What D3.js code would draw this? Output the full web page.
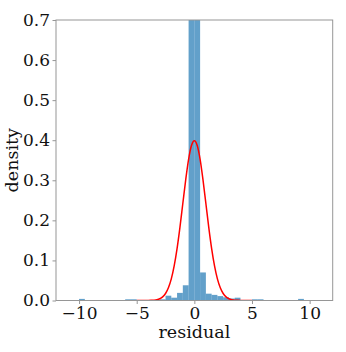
<!DOCTYPE html>
<html>
<head>
<meta charset="utf-8">
<script src="https://cdn.jsdelivr.net/npm/d3@7"></script>
<style>
  body { margin: 0; background: #fff; }
  text { font-family: "DejaVu Serif", serif; }
</style>
</head>
<body>
<svg id="canvas" width="346" height="352"></svg>
<script>
// histogram bins (left edge, width 0.5) and their densities
var binWidth = 0.5;
var binLefts = [-10, -6, -5.5, -3, -2.5, -2, -1.5, -1, -0.5, 0, 0.5, 1, 1.5, 2, 2.5, 3, 3.5, 5, 5.5, 9];
var densities = [0.004, 0.003, 0.003, 0.003, 0.012, 0.007, 0.019, 0.038, 0.93, 0.85, 0.07, 0.017, 0.014, 0.011, 0.008, 0.005, 0.007, 0.003, 0.003, 0.004];

// red reference curve
var curveX = [-5, -4.5, -4, -3.75, -3.5, -3.25, -3, -2.75, -2.5, -2.25, -2, -1.75, -1.5, -1.25, -1, -0.75, -0.5, -0.25, 0,
              0.25, 0.5, 0.75, 1, 1.25, 1.5, 1.75, 2, 2.25, 2.5, 2.75, 3, 3.25, 3.5, 3.75, 4, 4.5, 5];
var curveY = [0, 0, 0.0001, 0.0004, 0.0009, 0.002, 0.0044, 0.0091, 0.0175, 0.0317, 0.054, 0.0863, 0.1295, 0.1826, 0.242, 0.3011, 0.3521, 0.3867, 0.3989,
              0.3867, 0.3521, 0.3011, 0.242, 0.1826, 0.1295, 0.0863, 0.054, 0.0317, 0.0175, 0.0091, 0.0044, 0.002, 0.0009, 0.0004, 0.0001, 0, 0];

var xTicks = [-10, -5, 0, 5, 10];
var yTicks = [0, 0.1, 0.2, 0.3, 0.4, 0.5, 0.6, 0.7];

(function() {
    var plotLeft = 56, plotRight = 332.7, plotTop = 20, plotBottom = 300.5;
    var spineColor = '#969696';

    var svg = d3.select('#canvas');
    var x = d3.scaleLinear().domain([-12, 12]).range([plotLeft, plotRight]);
    var y = d3.scaleLinear().domain([0, 0.7]).range([plotBottom, plotTop]);

    svg.append('clipPath')
        .attr('id', 'plot-clip')
        .append('rect')
        .attr('x', plotLeft)
        .attr('y', plotTop)
        .attr('width', plotRight - plotLeft)
        .attr('height', plotBottom - plotTop);

    var plot = svg.append('g').attr('clip-path', 'url(#plot-clip)');

    plot.selectAll('rect.bar')
        .data(binLefts)
        .enter().append('rect')
        .attr('class', 'bar')
        .attr('x', function(d) { return x(d); })
        .attr('width', function(d) { return x(d + binWidth) - x(d); })
        .attr('y', function(d, i) { return y(densities[i]); })
        .attr('height', function(d, i) { return plotBottom - y(densities[i]); })
        .attr('fill', '#1f77b4')
        .attr('fill-opacity', 0.7);

    var line = d3.line()
        .x(function(d, i) { return x(curveX[i]); })
        .y(function(d) { return y(d); })
        .curve(d3.curveMonotoneX);

    plot.append('path')
        .datum(curveY)
        .attr('d', line)
        .attr('fill', 'none')
        .attr('stroke', '#ff0000')
        .attr('stroke-width', 1.5);

    var xAxis = svg.append('g')
        .attr('transform', 'translate(0,' + plotBottom + ')')
        .call(d3.axisBottom(x)
            .tickValues(xTicks)
            .tickSize(3.5)
            .tickPadding(3)
            .tickFormat(function(d) { return d < 0 ? '\u2212' + Math.abs(d) : String(d); }));

    var yAxis = svg.append('g')
        .attr('transform', 'translate(' + plotLeft + ',0)')
        .call(d3.axisLeft(y)
            .tickValues(yTicks)
            .tickSize(3.5)
            .tickPadding(2.5)
            .tickFormat(d3.format('.1f')));

    [xAxis, yAxis].forEach(function(a) {
        a.select('.domain').remove();
        a.selectAll('.tick line').attr('stroke', spineColor);
        a.selectAll('.tick text')
            .attr('fill', '#111')
            .style('font-family', '"DejaVu Serif", serif')
            .style('font-size', '17px');
    });

    svg.append('rect')
        .attr('x', plotLeft)
        .attr('y', plotTop)
        .attr('width', plotRight - plotLeft)
        .attr('height', plotBottom - plotTop)
        .attr('fill', 'none')
        .attr('stroke', spineColor)
        .attr('stroke-width', 1);

    svg.append('text')
        .attr('x', (plotLeft + plotRight) / 2)
        .attr('y', 338)
        .attr('text-anchor', 'middle')
        .attr('fill', '#111')
        .style('font-size', '17.5px')
        .text('residual');

    svg.append('text')
        .attr('transform', 'translate(18,' + ((plotTop + plotBottom) / 2) + ') rotate(-90)')
        .attr('text-anchor', 'middle')
        .attr('fill', '#111')
        .style('font-size', '17.5px')
        .text('density');
})();
</script>
</body>
</html>
